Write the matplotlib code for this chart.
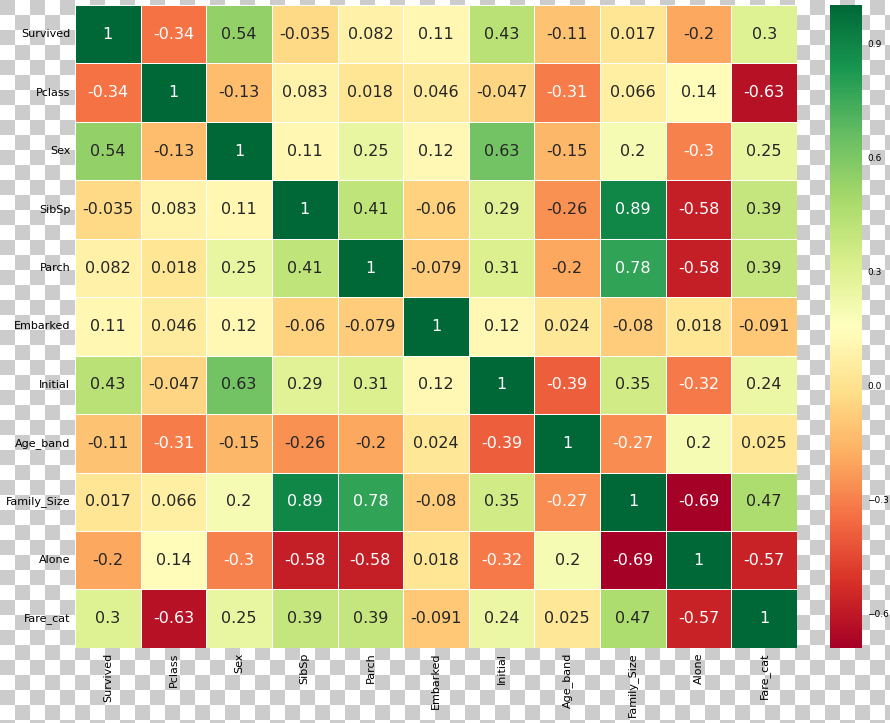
import numpy as np
import pandas as pd
import matplotlib
matplotlib.use("Agg")
import matplotlib.pyplot as plt
import seaborn as sns

features = ['Survived', 'Pclass', 'Sex', 'SibSp', 'Parch', 'Embarked',
            'Initial', 'Age_band', 'Family_Size', 'Alone', 'Fare_cat']

survived = [1, -0.34, 0.54, -0.035, 0.082, 0.11, 0.43, -0.11, 0.017, -0.2, 0.3]
pclass = [-0.34, 1, -0.13, 0.083, 0.018, 0.046, -0.047, -0.31, 0.066, 0.14, -0.63]
sex = [0.54, -0.13, 1, 0.11, 0.25, 0.12, 0.63, -0.15, 0.2, -0.3, 0.25]
sibsp = [-0.035, 0.083, 0.11, 1, 0.41, -0.06, 0.29, -0.26, 0.89, -0.58, 0.39]
parch = [0.082, 0.018, 0.25, 0.41, 1, -0.079, 0.31, -0.2, 0.78, -0.58, 0.39]
embarked = [0.11, 0.046, 0.12, -0.06, -0.079, 1, 0.12, 0.024, -0.08, 0.018, -0.091]
initial = [0.43, -0.047, 0.63, 0.29, 0.31, 0.12, 1, -0.39, 0.35, -0.32, 0.24]
age_band = [-0.11, -0.31, -0.15, -0.26, -0.2, 0.024, -0.39, 1, -0.27, 0.2, 0.025]
family_size = [0.017, 0.066, 0.2, 0.89, 0.78, -0.08, 0.35, -0.27, 1, -0.69, 0.47]
alone = [-0.2, 0.14, -0.3, -0.58, -0.58, 0.018, -0.32, 0.2, -0.69, 1, -0.57]
fare_cat = [0.3, -0.63, 0.25, 0.39, 0.39, -0.091, 0.24, 0.025, 0.47, -0.57, 1]

cbar_ticks = [-0.6, -0.3, 0.0, 0.3, 0.6, 0.9]

corr = pd.DataFrame([survived, pclass, sex, sibsp, parch, embarked, initial,
                     age_band, family_size, alone, fare_cat],
                    index=features, columns=features)

fig = plt.figure(figsize=(8.9, 7.23), dpi=100)

# transparent-background checkerboard behind everything
bg = fig.add_axes([0, 0, 1, 1], zorder=-10)
sq = 15
ny, nx = int(np.ceil(723 / sq)), int(np.ceil(890 / sq))
checker = (np.add.outer(np.arange(ny), np.arange(nx)) % 2 == 0).astype(float)
bg.imshow(checker, cmap=matplotlib.colors.ListedColormap(['#ffffff', '#cccccc']),
          extent=[0, nx * sq, ny * sq, 0], interpolation='nearest', aspect='auto')
bg.set_xlim(0, 890)
bg.set_ylim(723, 0)
bg.axis('off')

ax = fig.add_axes([0.0843, 0.104, 0.8112, 0.889])
cax = fig.add_axes([0.9326, 0.104, 0.036, 0.889])
ax.patch.set_alpha(0)

sns.heatmap(corr, ax=ax, cbar_ax=cax, annot=True, cmap='RdYlGn',
            linewidths=0.6, linecolor='white', annot_kws={'size': 11.5},
            vmin=-0.69, vmax=1)

ax.tick_params(length=0, labelsize=8)
plt.setp(ax.get_yticklabels(), rotation=0)
plt.setp(ax.get_xticklabels(), rotation=90)

cax.set_yticks(cbar_ticks)
cax.set_yticklabels([f'{t:.1f}'.replace('-', '\u2212') for t in cbar_ticks])
cax.tick_params(length=0, labelsize=6.5)

fig.savefig('out.png', dpi=100)
